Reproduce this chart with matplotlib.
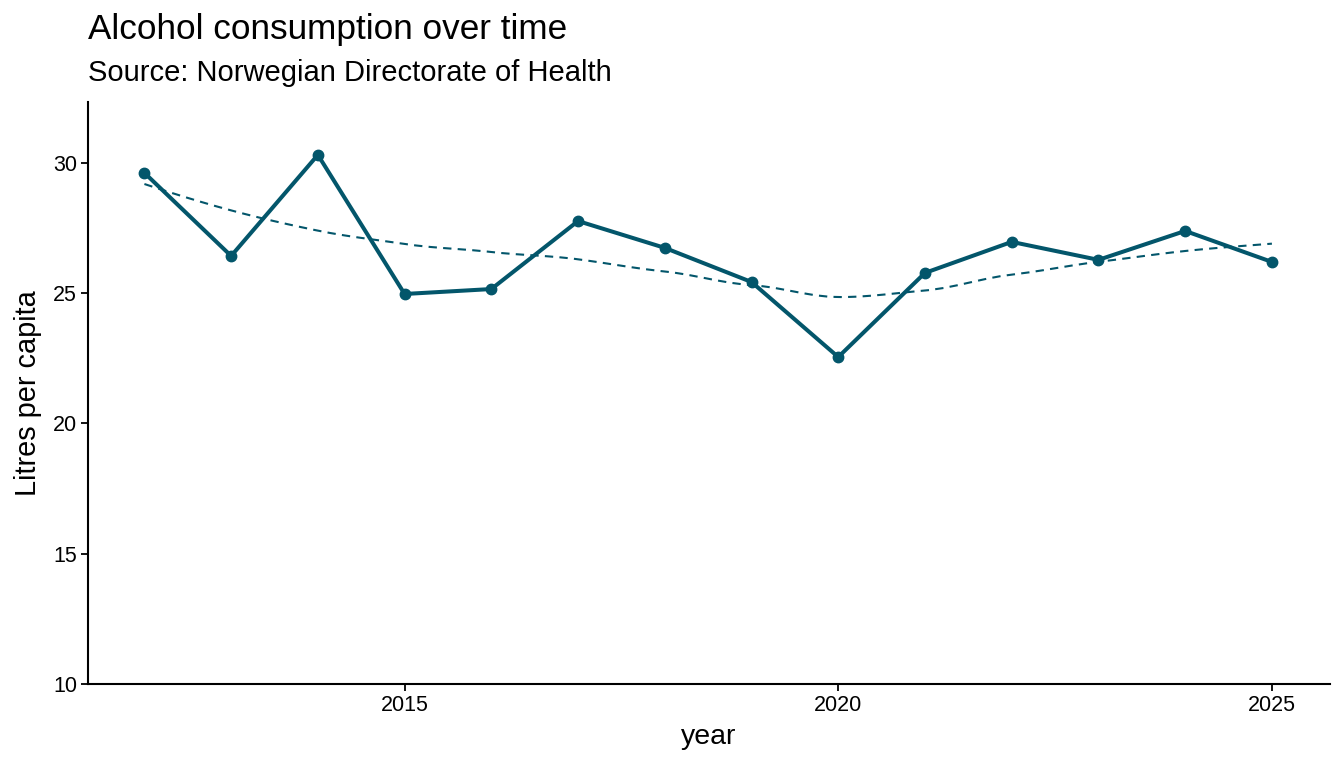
import numpy as np
import matplotlib
matplotlib.use("Agg")
import matplotlib.pyplot as plt

years = [2012, 2013, 2014, 2015, 2016, 2017, 2018, 2019, 2020, 2021, 2022, 2023, 2024, 2025]
litres = [29.62, 26.43, 30.31, 24.97, 25.16, 27.77, 26.74, 25.43, 22.55, 25.78, 26.97, 26.28, 27.39, 26.20]
yticks = [10, 15, 20, 25, 30]
xticks = [2015, 2020, 2025]

color = "#03566B"
plt.rcParams['font.family'] = ['Liberation Sans', 'DejaVu Sans']


def loess_fit(x, y, x0, span=0.75):
    n = len(x)
    q = int(np.floor(span * n))
    d = np.abs(x - x0)
    h = np.sort(d)[q - 1]
    w = np.clip(1 - (d / h) ** 3, 0, None) ** 3
    X = np.vstack([np.ones(n), x - x0, (x - x0) ** 2]).T
    W = np.diag(w)
    beta = np.linalg.solve(X.T @ W @ X, X.T @ W @ y)
    return beta[0], beta[1]


def loess_curve(x, y, npts=80):
    x = np.asarray(x, float)
    y = np.asarray(y, float)
    verts = x.copy()
    vals = []
    slopes = []
    for v in verts:
        a, b = loess_fit(x, y, v)
        vals.append(a)
        slopes.append(b)
    vals = np.array(vals)
    slopes = np.array(slopes)
    xs = np.linspace(x.min(), x.max(), npts)
    ys = []
    for t in xs:
        i = min(np.searchsorted(verts, t, side='right') - 1, len(verts) - 2)
        x0, x1 = verts[i], verts[i + 1]
        hh = x1 - x0
        s = (t - x0) / hh
        h00 = 2 * s**3 - 3 * s**2 + 1
        h10 = s**3 - 2 * s**2 + s
        h01 = -2 * s**3 + 3 * s**2
        h11 = s**3 - s**2
        ys.append(h00 * vals[i] + h10 * hh * slopes[i] + h01 * vals[i + 1] + h11 * hh * slopes[i + 1])
    return xs, np.array(ys)


xs, ys = loess_curve(years, litres)

fig = plt.figure(figsize=(13.44, 7.68), dpi=100)
ax = fig.add_axes([0.0655, 0.1094, 0.9896 - 0.0655, 0.8672 - 0.1094])

ax.plot(xs, ys, linestyle=(0, (4, 3)), color=color, linewidth=1.5)
ax.plot(years, litres, color=color, linewidth=2.9, marker='o', markersize=7.5,
        solid_joinstyle='round')

ax.set_xlim(2011.35, 2025.67)
ax.set_ylim(10, 32.34)
ax.set_xticks(xticks)
ax.set_yticks(yticks)
for s in ['top', 'right']:
    ax.spines[s].set_visible(False)
for s in ['left', 'bottom']:
    ax.spines[s].set_linewidth(1.5)
ax.tick_params(axis='both', labelsize=15.5, width=1.3, length=5, pad=3, colors='black')
ax.set_xlabel('year', fontsize=20.5, labelpad=6)
ax.set_ylabel('Litres per capita', fontsize=20.8, labelpad=8)

fig.text(0.0655, 0.962, 'Alcohol consumption over time', fontsize=25.3, va='center')
fig.text(0.0655, 0.905, 'Source: Norwegian Directorate of Health', fontsize=21, va='center')

fig.savefig('out.png', dpi=100)
